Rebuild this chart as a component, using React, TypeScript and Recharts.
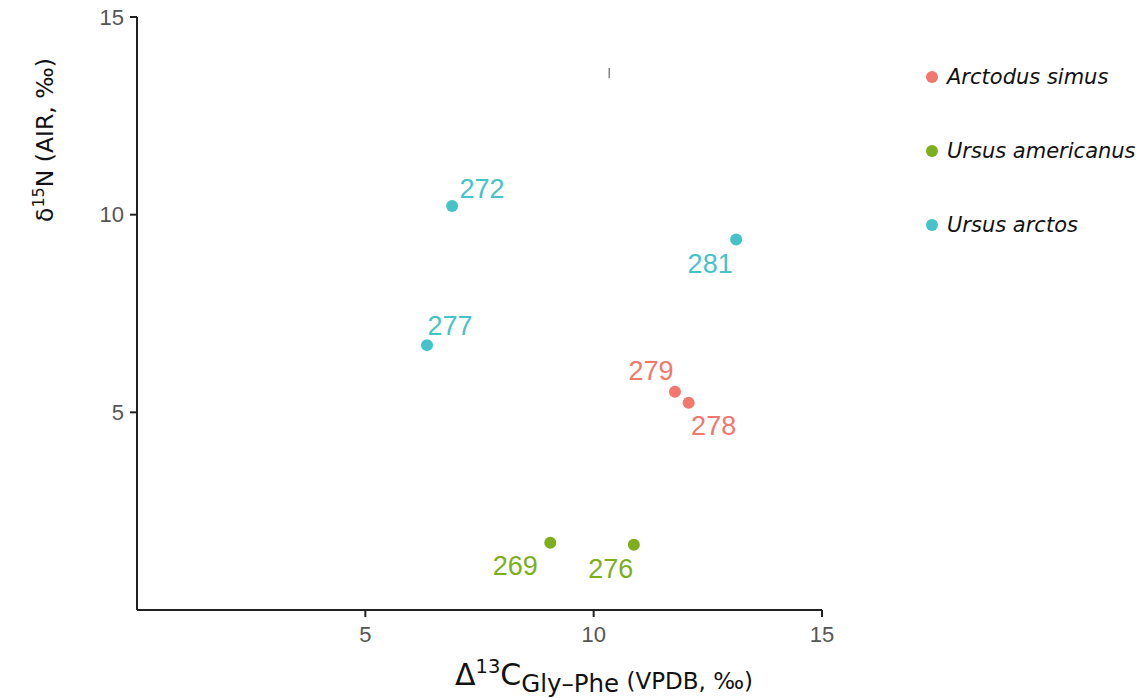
import { ScatterChart, Scatter, XAxis, YAxis, Legend, ReferenceLine } from "recharts";

const species = ["Arctodus simus", "Ursus americanus", "Ursus arctos"];
const colors = ["#F2776C", "#7CAE1E", "#45C3C8"];

// sample id, Δ13C Gly-Phe, δ15N
const arctodusIds = ["279", "278"];
const arctodusX = [11.78, 12.08];
const arctodusY = [5.52, 5.24];

const americanusIds = ["269", "276"];
const americanusX = [9.05, 10.88];
const americanusY = [1.7, 1.65];

const arctosIds = ["272", "281", "277"];
const arctosX = [6.9, 13.12, 6.35];
const arctosY = [10.22, 9.37, 6.7];

const xTicks = [5, 10, 15];
const yTicks = [5, 10, 15];

// label nudges (px) so the text sits clear of each point
const labelNudge: Record<string, [number, number]> = {
  "272": [30, -17],
  "281": [-26, 24],
  "277": [23, -19],
  "279": [-24, -21],
  "278": [25, 23],
  "269": [-35, 23],
  "276": [-23, 24],
};

const build = (ids: string[], xs: number[], ys: number[]) =>
  ids.map((id, i) => ({ id, x: xs[i], y: ys[i] }));

const seriesData = [
  build(arctodusIds, arctodusX, arctodusY),
  build(americanusIds, americanusX, americanusY),
  build(arctosIds, arctosX, arctosY),
];

const makeShape = (color: string) => (props: any) => {
  const { cx, cy, payload } = props;
  const [dx, dy] = labelNudge[payload.id] ?? [0, 0];
  return (
    <g>
      <circle cx={cx} cy={cy} r={6} fill={color} />
      <text
        x={cx + dx}
        y={cy + dy}
        textAnchor="middle"
        dominantBaseline="central"
        fill={color}
        fontSize={27}
        fontFamily="Liberation Sans, Arial, sans-serif"
      >
        {payload.id}
      </text>
    </g>
  );
};

const renderLegend = () => (
  <div style={{ fontFamily: "DejaVu Sans, Verdana, sans-serif", fontStyle: "italic", fontSize: 21, color: "#111" }}>
    {species.map((s, i) => (
      <div key={s} style={{ display: "flex", alignItems: "center", height: 74 }}>
        <span
          style={{ width: 12, height: 12, borderRadius: 6, background: colors[i], display: "inline-block", marginRight: 9 }}
        />
        <span>{s}</span>
      </div>
    ))}
  </div>
);

const YTitle = () => (
  <text
    transform="translate(53,140) rotate(-90)"
    textAnchor="middle"
    fontSize={23.5}
    fill="#111"
    fontFamily="DejaVu Sans, Verdana, sans-serif"
  >
    δ<tspan fontSize={16} dy={-9}>15</tspan>
    <tspan dy={9}>N (AIR, ‰)</tspan>
  </text>
);

const XTitle = () => (
  <text x={604} y={685} textAnchor="middle" fill="#111" fontFamily="DejaVu Sans, Verdana, sans-serif">
    <tspan fontSize={30}>Δ</tspan>
    <tspan fontSize={19.5} dy={-12}>13</tspan>
    <tspan fontSize={30} dy={12}>C</tspan>
    <tspan fontSize={24.5} dy={7}>Gly–Phe</tspan>
    <tspan fontSize={23} dy={-3}> (VPDB, ‰)</tspan>
  </text>
);

const tickStyle = { fill: "#555", fontSize: 22, fontFamily: "Liberation Sans, Arial, sans-serif" };

export default function App() {
  return (
    <div style={{ position: "absolute", left: 0, top: 0, background: "#fff" }}>
      <ScatterChart width={1141} height={698} margin={{ top: 17, right: 104, bottom: 0, left: 0 }}>
        <XAxis
          type="number"
          dataKey="x"
          domain={[0, 15]}
          ticks={xTicks}
          height={88}
          axisLine={{ stroke: "#222", strokeWidth: 2 }}
          tickLine={{ stroke: "#222", strokeWidth: 2 }}
          tickSize={7}
          tickMargin={9}
          tick={tickStyle}
          label={<XTitle />}
        />
        <YAxis
          type="number"
          dataKey="y"
          domain={[0, 15]}
          ticks={yTicks}
          width={137}
          axisLine={{ stroke: "#222", strokeWidth: 2 }}
          tickLine={{ stroke: "#222", strokeWidth: 2 }}
          tickSize={7}
          tickMargin={6}
          tick={tickStyle}
          label={<YTitle />}
        />
        <ReferenceLine
          segment={[{ x: 10.34, y: 13.45 }, { x: 10.34, y: 13.71 }]}
          stroke="#666"
          strokeWidth={1.2}
          ifOverflow="visible"
        />
        {species.map((s, i) => (
          <Scatter
            key={s}
            name={s}
            data={seriesData[i]}
            fill={colors[i]}
            shape={makeShape(colors[i])}
            isAnimationActive={false}
          />
        ))}
        <Legend
          layout="vertical"
          verticalAlign="top"
          align="right"
          content={renderLegend}
          wrapperStyle={{ left: 926, top: 40, width: 215 }}
        />
      </ScatterChart>
    </div>
  );
}
